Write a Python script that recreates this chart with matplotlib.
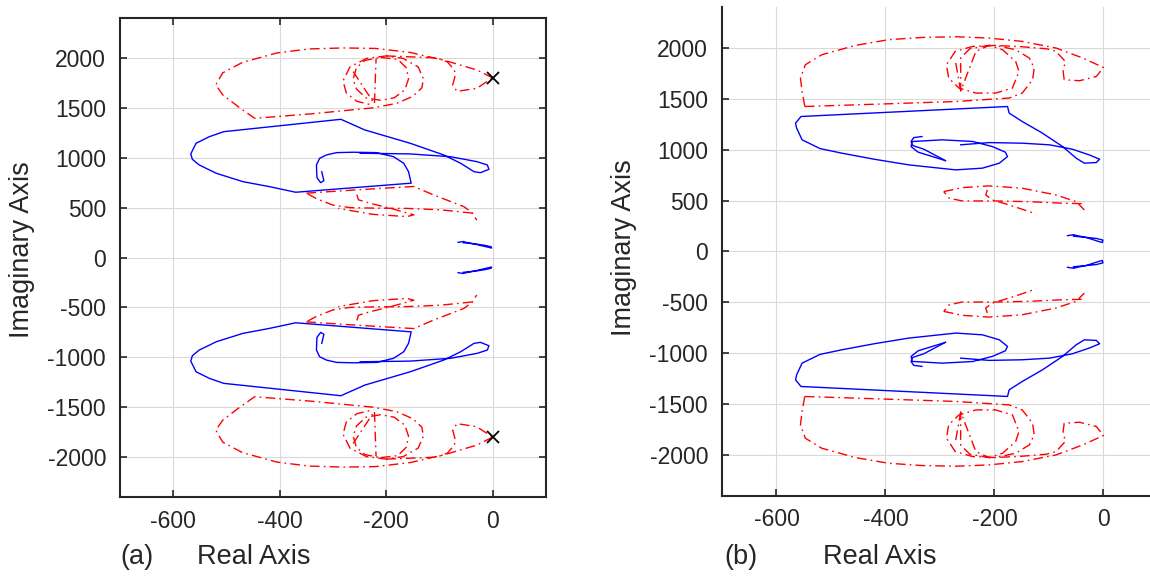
import numpy as np
import matplotlib
matplotlib.use("Agg")
import matplotlib.pyplot as plt

plt.rcParams["font.family"] = ["Liberation Sans", "DejaVu Sans"]
plt.rcParams["axes.unicode_minus"] = False

# Upper-half branches (Real, Imag); every branch is drawn again with -Imag.
# --- case (a) ---
a_red_outer_re = [0, -30, -90, -155, -220, -280, -345, -405, -470, -507, -520, -507, -475, -447,
                  -340, -224, -180, -150, -133, -130, -140, -168, -200, -237, -268, -281, -275, -255, -224]
a_red_outer_im = [1800, 1880, 1975, 2055, 2095, 2100, 2090, 2050, 1955, 1850, 1730, 1630, 1500, 1395,
                  1440, 1500, 1545, 1615, 1700, 1790, 1910, 1995, 2020, 1995, 1910, 1770, 1650, 1565, 1525]
a_red_top_re = [-200, -150, -105, -85, -72, -70, -75, -67, -30, 0]
a_red_top_im = [2020, 2010, 2000, 1960, 1880, 1830, 1730, 1665, 1695, 1800]
a_red_inner_re = [-210, -178, -162, -158, -165, -185, -210, -238, -256, -262, -256, -240, -210]
a_red_inner_im = [2005, 1985, 1900, 1790, 1680, 1600, 1575, 1600, 1690, 1790, 1900, 1975, 2005]
a_red_v_re = [-262, -222, -219]
a_red_v_im = [1863, 1540, 1990]
a_red_mid1_re = [-350, -250, -148, -111, -54, -38, -30]
a_red_mid1_im = [645, 680, 712, 627, 510, 445, 375]
a_red_mid2_re = [-38, -98, -161, -224, -268, -300, -331, -350]
a_red_mid2_im = [445, 478, 492, 495, 500, 525, 590, 645]
a_red_mid3_re = [-255, -252, -230, -190, -148, -161, -224, -255, -290]
a_red_mid3_im = [630, 578, 543, 490, 428, 410, 432, 460, 492]
a_blue_re = [-321, -317, -323, -330, -331, -325, -312, -293, -262, -218, -186, -167, -158, -153,
             -370, -419, -469, -519, -551, -564, -567, -557, -532, -505, -285, -240, -155, -92,
             -60, -35, -23, -7, -10, -29, -79, -155, -249]
a_blue_im = [860, 770, 750, 800, 927, 994, 1028, 1051, 1055, 1051, 1010, 944, 860, 745,
             654, 710, 760, 844, 927, 984, 1038, 1145, 1211, 1261, 1385, 1278, 1145, 1028,
             944, 860, 850, 884, 927, 960, 1010, 1038, 1045]
a_blue_small_re = [-65, -55, -48, -30, -10, -2, -3, -15, -35, -55]
a_blue_small_im = [152, 160, 150, 130, 105, 95, 108, 122, 138, 148]
a_zero_re = [0]
a_zero_im = [1800]

# --- case (b) ---
b_red_outer_re = [-548, -553, -556, -547, -517, -455, -394, -333, -271, -210, -149, -87, -38, 0,
                  -13, -44, -72, -74, -70, -87, -105, -150, -210]
b_red_outer_im = [1423, 1571, 1702, 1833, 1931, 2023, 2079, 2101, 2108, 2095, 2062, 1997, 1899, 1806,
                  1718, 1676, 1686, 1767, 1865, 1964, 1990, 2010, 2025]
b_red_loops_re = [-548, -394, -271, -173, -149, -130, -127, -136, -161, -198, -240, -272, -288, -284,
                  -265, -234, -198, -167, -155, -161, -185, -210, -245, -262, -262]
b_red_loops_im = [1423, 1450, 1472, 1506, 1555, 1686, 1800, 1899, 1980, 2023, 2013, 1964, 1833, 1702,
                  1604, 1555, 1555, 1604, 1767, 1865, 1980, 2023, 1990, 1900, 1575]
b_red_x_re = [-271, -262, -234, -210]
b_red_x_im = [1850, 1575, 1964, 2023]
b_red_mid1_re = [-293, -259, -210, -149, -87, -50, -35]
b_red_mid1_im = [588, 627, 644, 621, 555, 489, 408]
b_red_mid2_re = [-40, -75, -136, -198, -259, -283, -293]
b_red_mid2_im = [470, 474, 489, 496, 496, 523, 588]
b_red_mid3_re = [-213, -216, -204, -173, -136, -124]
b_red_mid3_im = [604, 555, 506, 457, 391, 366]
b_blue_re = [-290, -340, -353, -351, -296, -240, -204, -180, -176, -191, -222, -271, -357, -420,
             -480, -520, -553, -563, -565, -555, -176, -173, -149, -112, -75, -50, -35, -13,
             -7, -26, -57, -99, -149, -210, -262]
b_blue_im = [892, 975, 1030, 1079, 1096, 1080, 1030, 975, 932, 867, 818, 801, 850, 905,
             965, 1010, 1096, 1211, 1260, 1325, 1423, 1358, 1276, 1162, 1030, 916, 867, 873,
             906, 948, 1004, 1047, 1063, 1069, 1047]
b_blue_hook_re = [-333, -348, -353, -350, -330, -290]
b_blue_hook_im = [1128, 1118, 1080, 1040, 1005, 892]
b_blue_small_re = [-66, -55, -50, -30, -10, -2, -1, -13, -35, -55]
b_blue_small_im = [155, 165, 158, 135, 100, 88, 112, 128, 140, 150]

xticks = [-600, -400, -200, 0]
yticks = [-2000, -1500, -1000, -500, 0, 500, 1000, 1500, 2000]

RED = "#ff0000"
BLUE = "#0000ff"
DASHDOT = (0, (7, 3, 1.2, 3))


def both_halves(ax, re, im, **kw):
    re = np.asarray(re, dtype=float)
    im = np.asarray(im, dtype=float)
    ax.plot(re, im, **kw)
    ax.plot(re, -im, **kw)


def style_axes(ax, boxed):
    ax.set_xlim(-700, 100)
    ax.set_ylim(-2400, 2400)
    ax.set_xticks(xticks)
    ax.set_yticks(yticks)
    ax.grid(True, color="#d9d9d9", lw=0.8)
    ax.set_axisbelow(True)
    ax.tick_params(direction="in", length=5, width=1.2, color="#262626",
                   labelsize=16.5, labelcolor="#262626", top=boxed, right=boxed)
    ax.tick_params(axis="y", pad=10)
    ax.tick_params(axis="x", pad=9)
    for name, sp in ax.spines.items():
        sp.set_color("#262626")
        sp.set_linewidth(1.5)
        if not boxed and name in ("top", "right"):
            sp.set_visible(False)


fig = plt.figure(figsize=(11.5, 5.77), dpi=100)
ax1 = fig.add_axes([0.1043, 0.1386, 0.3704, 0.8302])
ax2 = fig.add_axes([0.6278, 0.1404, 0.3791, 0.8475])

red_kw = dict(color=RED, lw=1.0, linestyle=DASHDOT)
blue_kw = dict(color=BLUE, lw=1.0)

# (a)
for re, im in [(a_red_outer_re, a_red_outer_im), (a_red_top_re, a_red_top_im),
               (a_red_inner_re, a_red_inner_im), (a_red_v_re, a_red_v_im),
               (a_red_mid1_re, a_red_mid1_im), (a_red_mid2_re, a_red_mid2_im),
               (a_red_mid3_re, a_red_mid3_im)]:
    both_halves(ax1, re, im, **red_kw)
both_halves(ax1, a_blue_re, a_blue_im, **blue_kw)
both_halves(ax1, a_blue_small_re, a_blue_small_im, **blue_kw)
both_halves(ax1, a_zero_re, a_zero_im, linestyle="none", marker="x",
            color="black", markersize=9, markeredgewidth=1.3)
style_axes(ax1, boxed=True)

# (b)
for re, im in [(b_red_outer_re, b_red_outer_im), (b_red_loops_re, b_red_loops_im),
               (b_red_x_re, b_red_x_im), (b_red_mid1_re, b_red_mid1_im),
               (b_red_mid2_re, b_red_mid2_im), (b_red_mid3_re, b_red_mid3_im)]:
    both_halves(ax2, re, im, **red_kw)
both_halves(ax2, b_blue_re, b_blue_im, **blue_kw)
both_halves(ax2, b_blue_hook_re, b_blue_hook_im, **blue_kw)
both_halves(ax2, b_blue_small_re, b_blue_small_im, **blue_kw)
style_axes(ax2, boxed=False)

label_kw = dict(fontsize=19.5, color="#262626")
fig.text(0.1043, 0.0347, "(a)", ha="left", va="center", **label_kw)
fig.text(0.2209, 0.0347, "Real Axis", ha="center", va="center", **label_kw)
fig.text(0.6296, 0.0347, "(b)", ha="left", va="center", **label_kw)
fig.text(0.7652, 0.0347, "Real Axis", ha="center", va="center", **label_kw)
fig.text(0.0191, 0.5667, "Imaginary Axis", rotation=90, ha="center", va="center", **label_kw)
fig.text(0.5426, 0.5700, "Imaginary Axis", rotation=90, ha="center", va="center", **label_kw)

fig.savefig("out.png", dpi=100)
